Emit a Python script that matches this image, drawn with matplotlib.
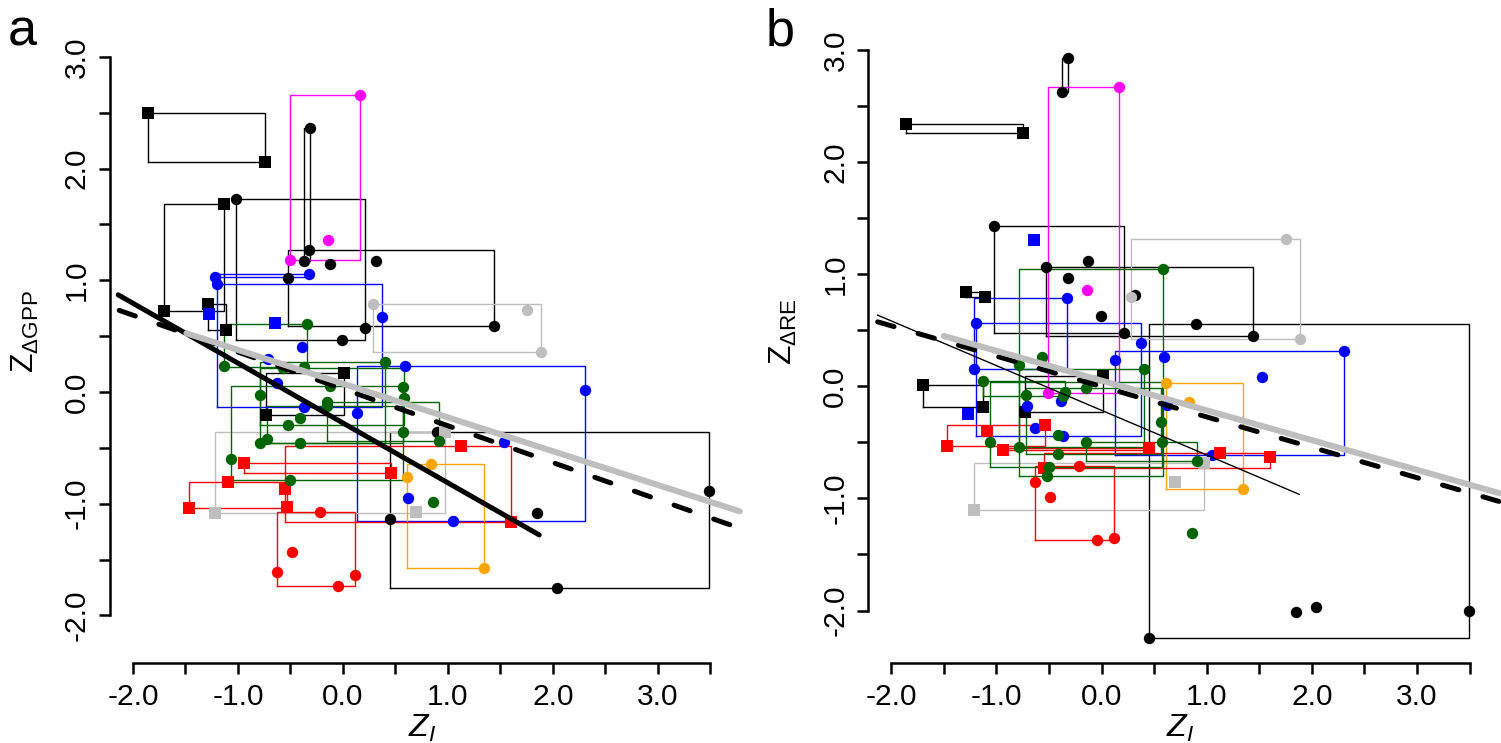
import numpy as np
import matplotlib
matplotlib.use("Agg")
import matplotlib.pyplot as plt

plt.rcParams['font.family'] = ['Liberation Sans', 'DejaVu Sans']
plt.rcParams['mathtext.fontset'] = 'custom'
plt.rcParams['mathtext.rm'] = 'Liberation Sans'
plt.rcParams['mathtext.it'] = 'Liberation Sans:italic'
plt.rcParams['mathtext.bf'] = 'Liberation Sans:bold'

# ----- data: one entry per site-year -----
site = ['K1', 'K1',
        'K2', 'K2',
        'K3', 'K3',
        'K4', 'K4',
        'K5', 'K5',
        'K6', 'K6', 'K6', 'K6',
        'K7', 'K7', 'K7', 'K7',
        'K8', 'K8', 'K8', 'K8', 'K8',
        'B1', 'B1',
        'B2', 'B2', 'B2', 'B2', 'B2', 'B2',
        'B3', 'B3', 'B3', 'B3', 'B3', 'B3',
        'B4', 'B5',
        'M1', 'M1', 'M1',
        'A1', 'A1', 'A1',
        'A2', 'A2', 'A2',
        'O1', 'O1', 'O1',
        'R1', 'R1', 'R1',
        'R2', 'R2',
        'R3', 'R3', 'R3',
        'R4', 'R4', 'R4', 'R4', 'R4',
        'G1', 'G1', 'G1',
        'G2', 'G2', 'G2', 'G2',
        'G3', 'G3', 'G3', 'G3',
        'G4', 'G4', 'G4',
        'G5', 'G5',
        'G6', 'G6', 'G6', 'G6',
        'G7']

z_i = [-1.86, -0.745,
       -1.13, -1.70,
       -1.288, -1.113,
       0.013, -0.732,
       -0.316, -0.373,
       -1.02, 0.21, -0.006, -0.126,
       -0.323, -0.526, 1.44, 0.32,
       0.90, 3.49, 0.449, 1.852, 2.04,
       -1.218, -0.326,
       -1.196, 0.372, -0.39, -0.71, -0.63, -0.368,
       0.59, 2.31, 1.05, 0.131, 0.623, 1.53,
       -1.272, -0.647,
       0.163, -0.507, -0.142,
       0.284, 1.75, 1.887,
       -1.218, 0.696, 0.972,
       0.836, 0.614, 1.347,
       1.125, 1.60, -0.551,
       -0.939, 0.455,
       -1.091, -1.466, -0.536,
       -0.218, -0.488, -0.631, 0.115, -0.044,
       -0.345, -1.132, -0.37,
       0.575, -1.063, -0.504, -0.123,
       0.58, -0.52, -0.79, -0.567,
       0.40, -0.79, -0.41,
       -0.149, 0.912,
       -0.72, 0.569, -0.149, -0.41,
       0.861]

z_gpp = [2.50, 2.06,
         1.68, 0.725,
         0.785, 0.555,
         0.173, -0.206,
         2.36, 1.17,
         1.725, 0.57, 0.466, 1.146,
         1.27, 1.02, 0.59, 1.17,
         -0.355, -0.886, -1.14, -1.08, -1.752,
         1.032, 1.056,
         0.964, 0.671, 0.405, 0.30, 0.078, -0.131,
         0.235, 0.02, -1.155, -0.19, -0.952, -0.445,
         0.698, 0.615,
         2.66, 1.18, 1.36,
         0.788, 0.731, 0.358,
         -1.086, -1.07, -0.355,
         -0.648, -0.761, -1.573,
         -0.48, -1.161, -0.868,
         -0.639, -0.722,
         -0.803, -1.041, -1.033,
         -1.071, -1.43, -1.609, -1.638, -1.737,
         0.606, 0.233, 0.227,
         0.042, -0.603, -0.788, 0.056,
         -0.051, -0.295, -0.027, 0.212,
         0.271, -0.46, -0.236,
         -0.092, -0.436,
         -0.424, -0.355, -0.125, -0.46,
         -0.988]

z_re = [2.34, 2.262,
        -0.187, 0.012,
        0.838, 0.80,
        0.095, -0.232,
        2.926, 2.623,
        1.43, 0.478, 0.63, 1.12,
        0.963, 1.067, 0.449, 0.815,
        0.553, -2.005, -2.243, -2.01, -1.97,
        0.154, 0.785,
        0.562, 0.383, -0.128, -0.173, -0.369, -0.443,
        0.264, 0.315, -0.613, 0.235, -0.167, 0.086,
        -0.25, 1.305,
        2.673, -0.057, 0.859,
        0.80, 1.31, 0.419,
        -1.103, -0.851, -0.681,
        -0.137, 0.027, -0.919,
        -0.592, -0.633, -0.732,
        -0.568, -0.553,
        -0.396, -0.53, -0.345,
        -0.711, -0.99, -0.857, -1.356, -1.371,
        -0.048, 0.047, -0.087,
        -0.50, -0.50, -0.717, 0.041,
        1.044, -0.80, 0.19, 0.259,
        0.154, -0.539, -0.434,
        -0.50, -0.666,
        -0.078, -0.321, -0.012, -0.601,
        -1.306]

# fitted lines: (intercept, slope, x from, x to)
fit_gpp_all = (-0.277, -0.536, -2.14, 1.87)
fit_gpp_dash = (0.028, -0.330, -2.13, 3.78)
fit_gpp_grey = (0.075, -0.3025, -1.49, 3.78)
fit_re_all = (-0.214, -0.3987, -2.13, 1.88)
fit_re_dash = (-0.002, -0.271, -2.13, 3.78)
fit_re_grey = (0.051, -0.2654, -1.50, 3.78)

# ----- styles per site -----
site_style = {
    'K1': ('black', 's'), 'K2': ('black', 's'), 'K3': ('black', 's'), 'K4': ('black', 's'),
    'K5': ('black', 'o'), 'K6': ('black', 'o'), 'K7': ('black', 'o'), 'K8': ('black', 'o'),
    'B1': ('#0000FF', 'o'), 'B2': ('#0000FF', 'o'), 'B3': ('#0000FF', 'o'),
    'B4': ('#0000FF', 's'), 'B5': ('#0000FF', 's'),
    'M1': ('#FF00FF', 'o'),
    'A1': ('#BEBEBE', 'o'), 'A2': ('#BEBEBE', 's'),
    'O1': ('#FFA500', 'o'),
    'R1': ('#FF0000', 's'), 'R2': ('#FF0000', 's'), 'R3': ('#FF0000', 's'),
    'R4': ('#FF0000', 'o'),
    'G1': ('#006400', 'o'), 'G2': ('#006400', 'o'), 'G3': ('#006400', 'o'),
    'G4': ('#006400', 'o'), 'G5': ('#006400', 'o'), 'G6': ('#006400', 'o'),
    'G7': ('#006400', 'o'),
}

W, H = 1501, 743
fig = plt.figure(figsize=(W / 100, H / 100), dpi=100)


def px_axes(left, right, top, bottom):
    return fig.add_axes([left / W, 1 - bottom / H, (right - left) / W, (bottom - top) / H])


ax_a = px_axes(110, 733.5, 8, 663)
ax_b = px_axes(868.4, 1492.7, 8, 663)

x_arr = np.array(z_i)
site_arr = np.array(site)


def draw_sites(ax, yvals):
    y_arr = np.array(yvals)
    for s in site_style:
        col, mk = site_style[s]
        m = site_arr == s
        xs, ys = x_arr[m], y_arr[m]
        if len(xs) > 1:
            x0, x1, y0, y1 = xs.min(), xs.max(), ys.min(), ys.max()
            ax.plot([x0, x1, x1, x0, x0], [y0, y0, y1, y1, y0],
                    color=col, lw=1.0, zorder=2, solid_joinstyle='miter')
        ax.plot(xs, ys, ls='none', marker=mk, ms=8.2, mew=0, color=col, zorder=6)


def draw_fit(ax, fit, **kw):
    b, m, xa, xb = fit
    xx = np.array([xa, xb])
    ax.plot(xx, b + m * xx, clip_on=False, **kw)


def style_axes(ax, ylim):
    ax.set_xlim(-2.218, 3.72)
    ax.set_ylim(*ylim)
    ax.spines['top'].set_visible(False)
    ax.spines['right'].set_visible(False)
    ax.spines['left'].set_bounds(-2, 3)
    ax.spines['bottom'].set_bounds(-2, 3.5)
    for sp in ('left', 'bottom'):
        ax.spines[sp].set_linewidth(1.8)
    xt = np.arange(-2, 3.51, 0.5)
    yt = np.arange(-2, 3.01, 0.5)
    ax.set_xticks(xt)
    ax.set_xticklabels(['%.1f' % v if v == int(v) else '' for v in xt])
    ax.set_yticks(yt)
    ax.set_yticklabels(['%.1f' % v if v == int(v) else '' for v in yt],
                       rotation=90, va='center')
    ax.tick_params(axis='both', length=7.9, width=1.8, labelsize=21.5)
    ax.tick_params(axis='x', pad=6.5)
    ax.tick_params(axis='y', pad=5.8)


# ----- panel a -----
draw_sites(ax_a, z_gpp)
draw_fit(ax_a, fit_gpp_all, color='black', lw=3.6, solid_capstyle='round', zorder=7)
draw_fit(ax_a, fit_gpp_dash, color='black', lw=3.6, dashes=(3.4, 5.0),
         dash_capstyle='round', zorder=7)
draw_fit(ax_a, fit_gpp_grey, color='#BEBEBE', lw=4.4, solid_capstyle='round', zorder=8)
style_axes(ax_a, (-2.426, 3.438))

# ----- panel b -----
draw_sites(ax_b, z_re)
draw_fit(ax_b, fit_re_all, color='black', lw=1.0, zorder=7)
draw_fit(ax_b, fit_re_dash, color='black', lw=3.6, dashes=(3.4, 5.0),
         dash_capstyle='round', zorder=7)
draw_fit(ax_b, fit_re_grey, color='#BEBEBE', lw=4.4, solid_capstyle='round', zorder=8)
style_axes(ax_b, (-2.468, 3.375))

# ----- labels -----
fig.text(8 / W, 1 - 45 / H, 'a', fontsize=37.5, ha='left', va='baseline')
fig.text(766 / W, 1 - 45 / H, 'b', fontsize=37.5, ha='left', va='baseline')

fig.text(25 / W, 1 - 332 / H, r'$\mathrm{Z}_{\mathrm{\Delta GPP}}$', fontsize=23,
         rotation=90, ha='center', va='center')
fig.text(783 / W, 1 - 332 / H, r'$\mathrm{Z}_{\mathrm{\Delta RE}}$', fontsize=23,
         rotation=90, ha='center', va='center')

fig.text(421.7 / W, 1 - 737 / H, r'$Z_{I}$', fontsize=23, ha='center', va='baseline')
fig.text(1180.5 / W, 1 - 737 / H, r'$Z_{I}$', fontsize=23, ha='center', va='baseline')

fig.savefig('out.png', dpi=100)
